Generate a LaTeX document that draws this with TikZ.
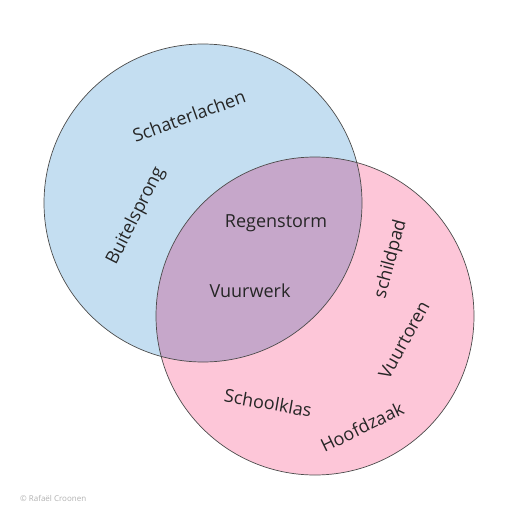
\documentclass[tikz,border=0pt]{standalone}
\usepackage{fontspec}
\setmainfont{Open Sans}
\begin{document}
\begin{tikzpicture}[x=1pt,y=-1pt,
  lbl/.style={font=\fontsize{18}{21}\selectfont, text=black!85, inner sep=0pt},
  ring/.style={draw=black!70, line width=0.7pt}]
\definecolor{cblue}{RGB}{196,222,241}
\definecolor{cpink}{RGB}{253,198,216}
\definecolor{cmix}{RGB}{198,167,202}
\useasboundingbox (0,0) rectangle (519,519);
\fill[white] (0,0) rectangle (519,519);
\coordinate (cb) at (203,203);
\coordinate (cp) at (315,316);
\fill[cblue] (cb) circle (159);
\fill[cpink] (cp) circle (159);
\begin{scope}
  \clip (cb) circle (159);
  \fill[cmix] (cp) circle (159);
\end{scope}
\draw[ring] (cb) circle (159);
\draw[ring] (cp) circle (159);
\node[lbl, rotate=20] (t1) at (189,116) {Schaterlachen};
\node[lbl, rotate=63] (t2) at (136,216) {Buitelsprong};
\node[lbl] (t3) at (276,223) {Regenstorm};
\node[lbl] (t4) at (250,291) {Vuurwerk};
\node[lbl, rotate=75] (t5) at (391,259) {schildpad};
\node[lbl, rotate=61] (t6) at (404,340) {Vuurtoren};
\node[lbl, rotate=-10] (t7) at (268,403) {Schoolklas};
\node[lbl, rotate=26] (t8) at (362,427) {Hoofdzaak};
\node[font=\fontsize{8}{10}\selectfont, text=black!30, anchor=west, inner sep=0pt] (cr) at (20,498) {© Rafaël Croonen};
\end{tikzpicture}
\end{document}
